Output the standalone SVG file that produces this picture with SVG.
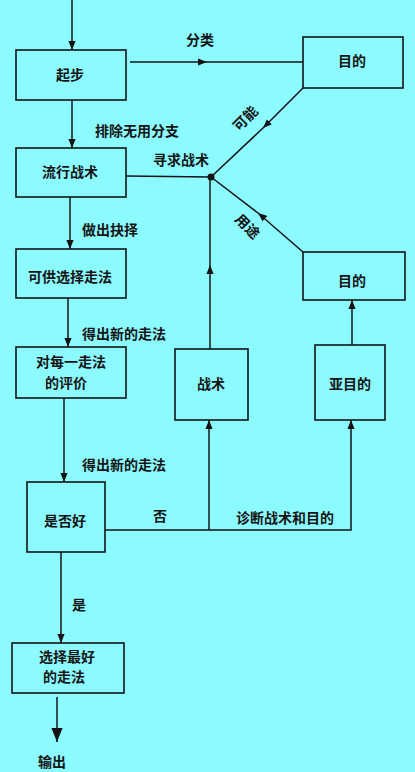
<svg xmlns="http://www.w3.org/2000/svg" width="415" height="772" viewBox="0 0 415 772">
<defs>
<style>
.bx{fill:none;stroke:#141414;stroke-width:1.6}
.ln{fill:none;stroke:#141414;stroke-width:1.5}
text{font-family:"Noto Sans CJK SC","Noto Sans",sans-serif;font-size:14px;font-weight:bold;fill:#141414}
.c{text-anchor:middle}
</style>
<marker id="ar" viewBox="0 0 10 8" refX="10" refY="4" markerWidth="9" markerHeight="8" markerUnits="userSpaceOnUse" orient="auto">
<path d="M0,0 L10,4 L0,8 z" fill="#141414"/>
</marker>
<marker id="arb" viewBox="0 0 10 8" refX="10" refY="4" markerWidth="14" markerHeight="12" markerUnits="userSpaceOnUse" orient="auto">
<path d="M0,0 L10,4 L0,8 z" fill="#141414"/>
</marker>
</defs>
<rect width="415" height="772" fill="#8cfbff"/>
<g id="connectors">
<path class="ln" d="M72 0 L72 50" marker-end="url(#ar)"/>
<path class="ln" d="M130 62 L207 62 L303 62" marker-mid="url(#ar)"/>
<path class="ln" d="M303 88 L263 128 L211 177" marker-mid="url(#ar)"/>
<path class="ln" d="M72 100 L72 148" marker-end="url(#ar)"/>
<path class="ln" d="M126 176 L211 177"/>
<path class="ln" d="M70 197 L70 249" marker-end="url(#ar)"/>
<path class="ln" d="M68 298 L68 347" marker-end="url(#ar)"/>
<path class="ln" d="M64 398 L64 482" marker-end="url(#ar)"/>
<path class="ln" d="M61 552 L61 643" marker-end="url(#ar)"/>
<path class="ln" d="M57 697 L57 742" marker-end="url(#arb)"/>
<path class="ln" d="M105 530 L351 530 L351 420" marker-end="url(#ar)"/>
<path class="ln" d="M209 530 L209 420" marker-end="url(#ar)"/>
<path class="ln" d="M210 349 L210 265 L210 177" marker-mid="url(#ar)"/>
<path class="ln" d="M352 345 L352 300" marker-end="url(#ar)"/>
<path class="ln" d="M303 252 L258 213 L211 177" marker-mid="url(#ar)"/>
<circle cx="211" cy="177" r="3.5" fill="#141414"/>
<text x="200" y="45" class="c">分类</text>
<text transform="translate(249,122) rotate(-45)" class="c">可能</text>
<text x="95" y="136">排除无用分支</text>
<text x="153" y="165">寻求战术</text>
<text x="82" y="235">做出抉择</text>
<text transform="translate(244,230) rotate(45)" class="c">用途</text>
<text x="82" y="339">得出新的走法</text>
<text x="82" y="470">得出新的走法</text>
<text x="160" y="521" class="c">否</text>
<text x="236" y="523">诊断战术和目的</text>
<text x="79" y="610" class="c">是</text>
<text x="52" y="767" class="c">输出</text>
</g>
<g id="qibu"><rect class="bx" x="16" y="50" width="110" height="50"/><text x="70" y="80" class="c">起步</text></g>
<g id="mudi1"><rect class="bx" x="303" y="37" width="100" height="51"/><text x="352" y="66" class="c">目的</text></g>
<g id="liuxing"><rect class="bx" x="16" y="148" width="110" height="49"/><text x="70" y="177" class="c">流行战术</text></g>
<g id="kegong"><rect class="bx" x="16" y="249" width="110" height="49"/><text x="70" y="282" class="c">可供选择走法</text></g>
<g id="pingjia"><rect class="bx" x="16" y="347" width="110" height="51"/><text x="71" y="367" class="c">对每一走法</text><text x="66" y="388" class="c">的评价</text></g>
<g id="zhanshu"><rect class="bx" x="175" y="349" width="73" height="71"/><text x="211" y="389" class="c">战术</text></g>
<g id="mudi2"><rect class="bx" x="303" y="252" width="102" height="48"/><text x="352" y="286" class="c">目的</text></g>
<g id="yamudi"><rect class="bx" x="315" y="345" width="70" height="75"/><text x="350" y="389" class="c">亚目的</text></g>
<g id="shifouhao"><rect class="bx" x="27" y="482" width="78" height="70"/><text x="65" y="526" class="c">是否好</text></g>
<g id="xuanze"><rect class="bx" x="12" y="643" width="112" height="50"/><text x="67" y="662" class="c">选择最好</text><text x="64" y="682" class="c">的走法</text></g>
</svg>
